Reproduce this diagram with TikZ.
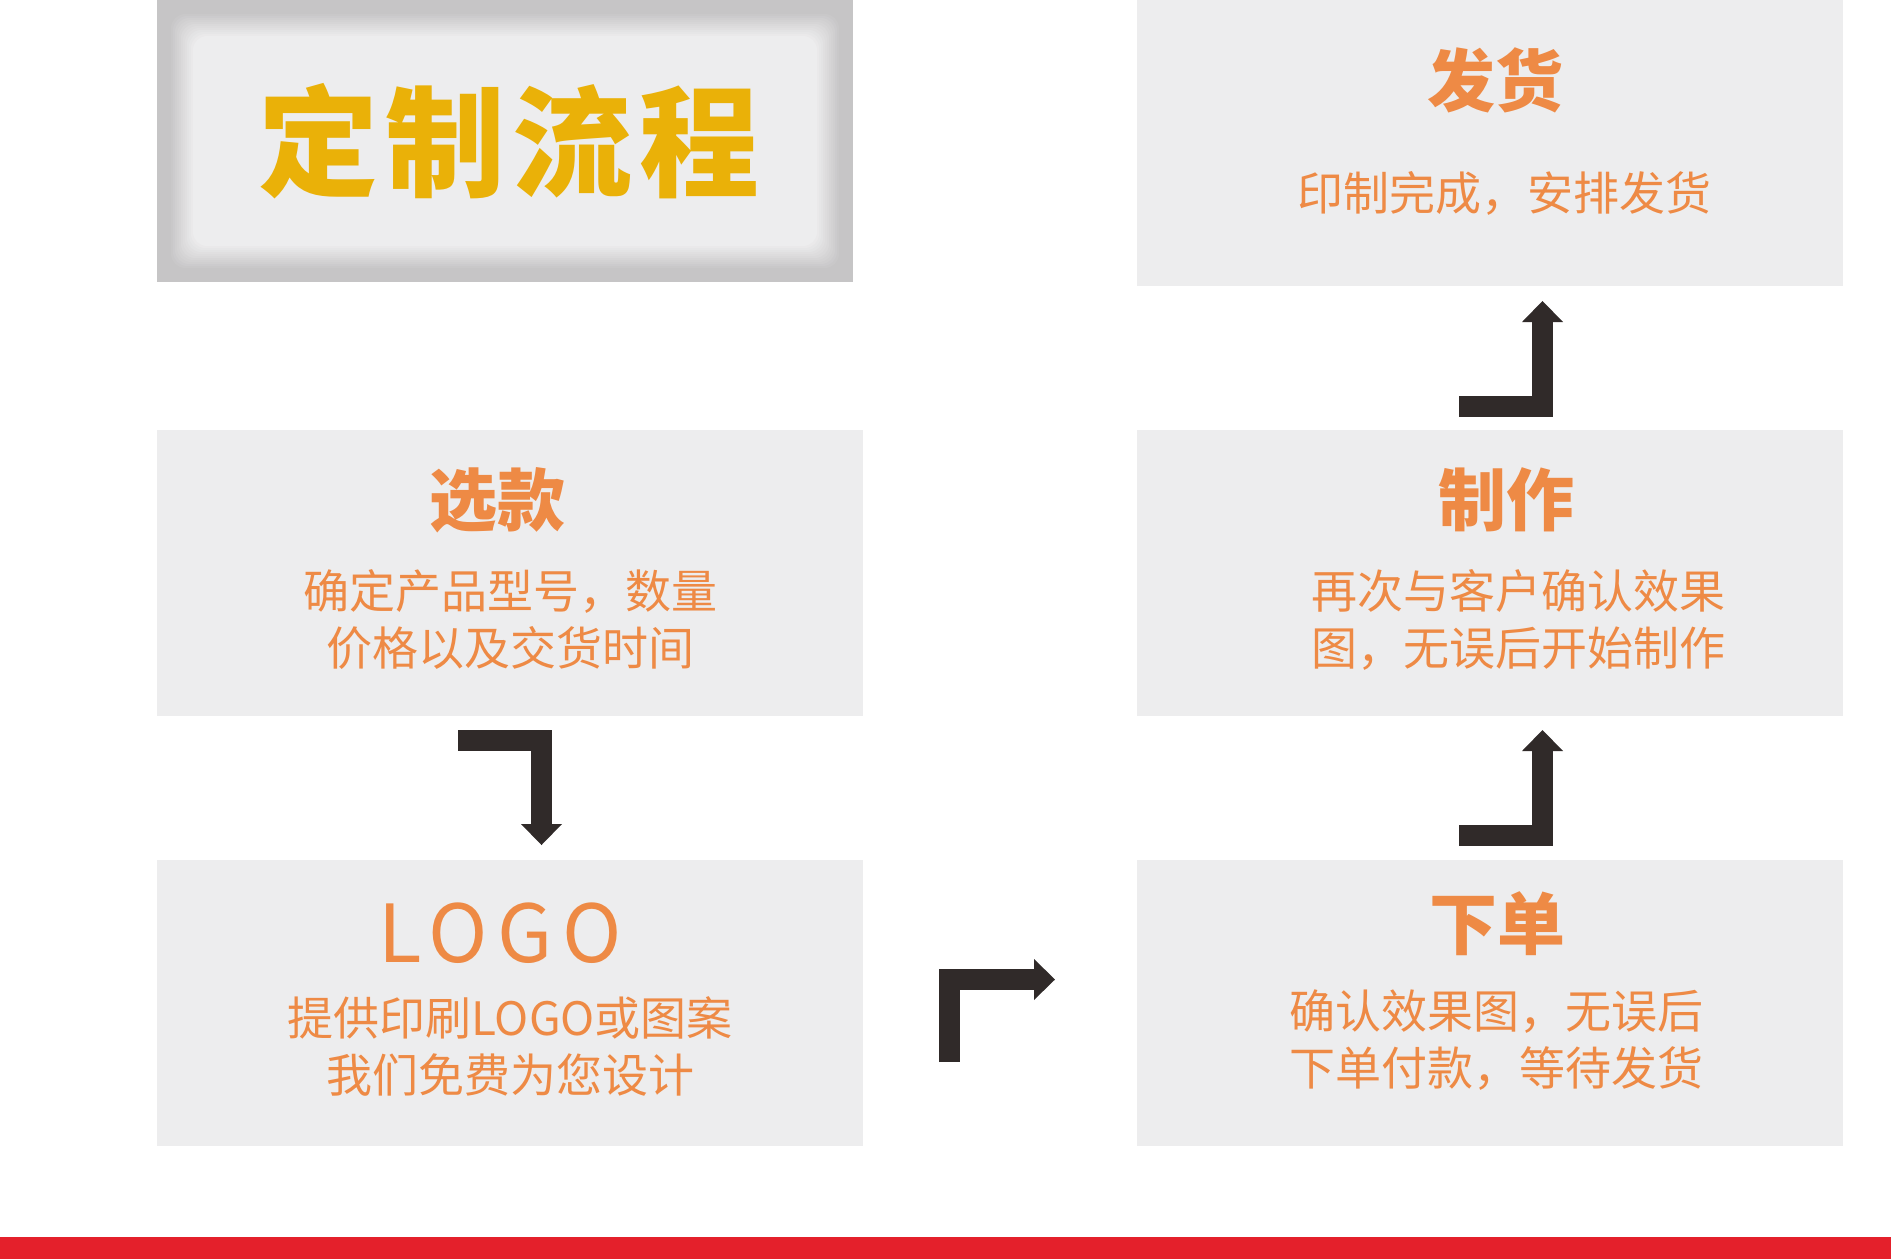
\documentclass[tikz,border=0pt]{standalone}
\usepackage{fontspec}
\newfontfamily\cjk{Noto Sans CJK SC}
\usepackage{xcolor}
\definecolor{cardgray}{HTML}{EDEDEE}
\definecolor{rimgray}{HTML}{C6C5C6}
\definecolor{orangetxt}{HTML}{EE8A45}
\definecolor{goldtxt}{HTML}{EAB108}
\definecolor{arrowc}{HTML}{302A29}
\definecolor{redbar}{HTML}{E4202B}
\usetikzlibrary{arrows.meta,calc}
\tikzset{
  card/.style={fill=cardgray, minimum width=706pt, minimum height=286pt,
               inner sep=0pt, outer sep=0pt},
  titlebox/.style={fill=rimgray, minimum width=696pt, minimum height=282pt,
               inner sep=0pt, outer sep=0pt},
  ttext/.style={font=\cjk\bfseries\fontsize{120pt}{120pt}\selectfont
               \addfontfeatures{LetterSpace=6}, text=goldtxt},
  head/.style={font=\cjk\bfseries\fontsize{68pt}{68pt}\selectfont, text=orangetxt},
  logohead/.style={font=\cjk\fontsize{80pt}{80pt}\selectfont
               \addfontfeatures{LetterSpace=12}, text=orangetxt},
  body/.style={font=\cjk\fontsize{46pt}{57pt}\selectfont, text=orangetxt,
               align=center},
  elbow/.style={draw=arrowc, line width=21pt,
                -{Triangle[width=41pt,length=21pt,line width=0pt]}},
}

\begin{document}
\begin{tikzpicture}[x=1pt,y=-1pt]
  \useasboundingbox (0,0) rectangle (1891,1259);
  \node[titlebox] (ttl) at (505,141) {};
  \foreach \k in {0,...,12}{
    \pgfmathtruncatemacro\mix{\k*100/12}
    \fill[cardgray!\mix!rimgray, rounded corners=14pt]
      ([shift={(12+2*\k,12+2*\k)}]ttl.north west) rectangle
      ([shift={(-12-2*\k,-12-2*\k)}]ttl.south east);
  }
  \node[ttext] (ttlT) at ([xshift=4pt]ttl.center) {定制流程};

  \node[card] (xuan) at (510,573) {};
  \node[card] (logo) at (510,1003) {};
  \node[card] (fahuo) at (1490,143) {};
  \node[card] (zhizuo) at (1490,573) {};
  \node[card] (xiadan) at (1490,1003) {};

  \node[head] (xuanT) at ([xshift=-13pt,yshift=73pt]xuan.center) {选款};
  \node[body] (xuanB) at ([yshift=-46.5pt]xuan.center) {确定产品型号，数量\\价格以及交货时间};
  \node[logohead] (logoT) at ([xshift=-10pt,yshift=70pt]logo.center) {LOGO};
  \node[body] (logoB) at ([yshift=-43pt]logo.center) {提供印刷LOGO或图案\\我们免费为您设计};
  \node[head] (fahuoT) at ([xshift=5pt,yshift=63pt]fahuo.center) {发货};
  \node[body] (fahuoB) at ([xshift=14pt,yshift=-50pt]fahuo.center) {印制完成，安排发货};
  \node[head] (zhizuoT) at ([xshift=16pt,yshift=73pt]zhizuo.center) {制作};
  \node[body] (zhizuoB) at ([xshift=28pt,yshift=-46.5pt]zhizuo.center) {再次与客户确认效果\\图，无误后开始制作};
  \node[head] (xiadanT) at ([xshift=7pt,yshift=79pt]xiadan.center) {下单};
  \node[body] (xiadanB) at ([xshift=6pt,yshift=-37.5pt]xiadan.center) {确认效果图，无误后\\下单付款，等待发货};

  \draw[elbow] ([xshift=-52pt,yshift=-24.5pt]xuan.south) -| ([xshift=31.5pt,yshift=15pt]logo.north);
  \draw[elbow] ([xshift=86.5pt,yshift=-59pt]logo.east) |- ([xshift=-82pt,yshift=23.5pt]xiadan.west);
  \draw[elbow] ([xshift=-31pt,yshift=24.5pt]xiadan.north) -| ([xshift=52.5pt,yshift=-14pt]zhizuo.south);
  \draw[elbow] ([xshift=-31pt,yshift=23.5pt]zhizuo.north) -| ([xshift=52.5pt,yshift=-15pt]fahuo.south);

  \fill[redbar] (0,1237) rectangle (1891,1259);
\end{tikzpicture}
\end{document}
